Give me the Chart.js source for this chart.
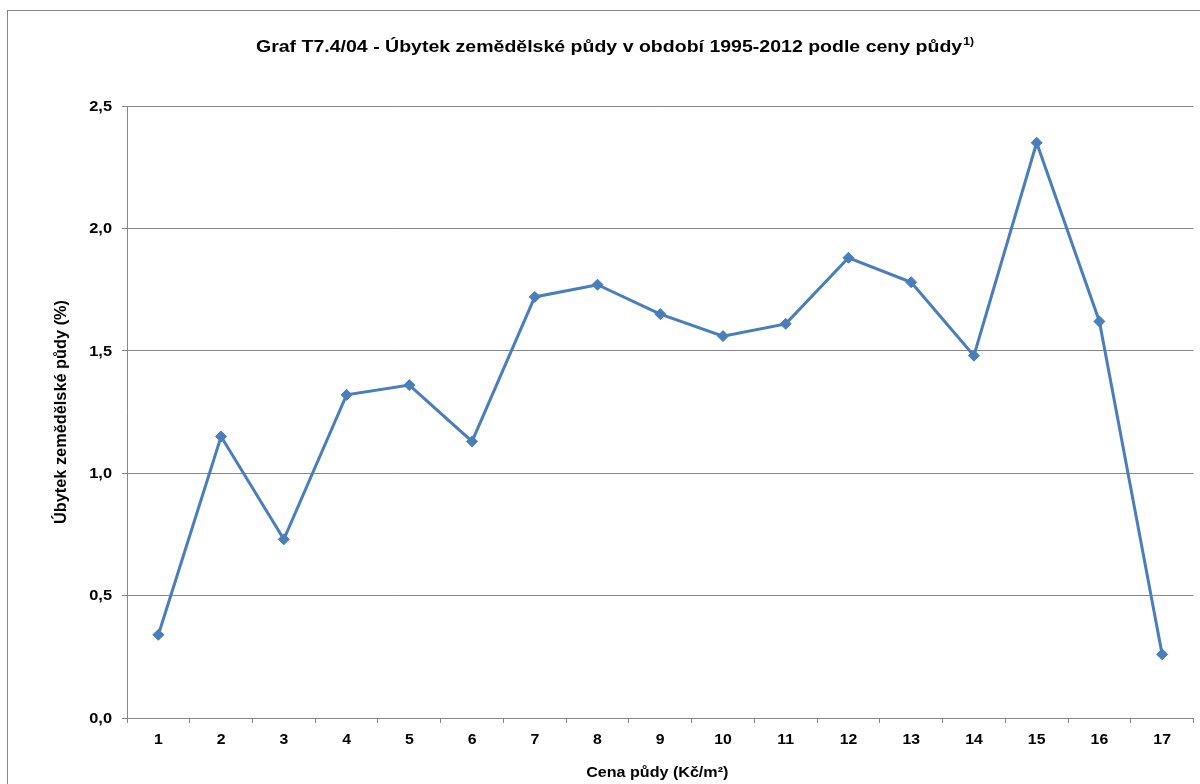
<!DOCTYPE html>
<html>
<head>
<meta charset="utf-8">
<script src="https://cdn.jsdelivr.net/npm/chart.js@4/dist/chart.umd.min.js"></script>
<style>
  html, body { margin: 0; padding: 0; background: #fff; }
  #wrap { width: 1200px; height: 784px; position: relative; }
</style>
</head>
<body>
<div id="wrap"><canvas id="c" width="1200" height="784"></canvas></div>
<script>
const categories = ['1','2','3','4','5','6','7','8','9','10','11','12','13','14','15','16','17'];
const values = [0.34, 1.15, 0.73, 1.32, 1.36, 1.13, 1.72, 1.77, 1.65, 1.56, 1.61, 1.88, 1.78, 1.48, 2.35, 1.62, 0.26];
const yTicks = [0, 0.5, 1.0, 1.5, 2.0, 2.5];
const titleMain = 'Graf T7.4/04 - Úbytek zemědělské půdy v období 1995-2012 podle ceny půdy';
const titleSup = '1)';
const yTitle = 'Úbytek zemědělské půdy (%)';
const xTitle = 'Cena půdy (Kč/m²)';

const FONT = '"Liberation Sans", Arial, sans-serif';
const GRID = '#878787';
const BLUE = '#4a7ebb';

// draw text horizontally stretched by sx (along its baseline)
function stretchedText(ctx, text, x, y, font, sx, align, baseline, rot) {
  ctx.save();
  ctx.font = font;
  ctx.fillStyle = '#000';
  ctx.textAlign = align;
  ctx.textBaseline = baseline;
  ctx.translate(x, y);
  if (rot) ctx.rotate(rot);
  ctx.scale(sx, 1);
  ctx.fillText(text, 0, 0);
  ctx.restore();
}

const decorPlugin = {
  id: 'decor',
  beforeDraw(chart) {
    const ctx = chart.ctx;
    ctx.save();
    ctx.fillStyle = '#fff';
    ctx.fillRect(0, 0, chart.width, chart.height);
    ctx.strokeStyle = GRID;
    ctx.lineWidth = 1;
    ctx.strokeRect(7.5, 10.5, 1400, 1000);
    ctx.restore();
  },
  afterDraw(chart) {
    const ctx = chart.ctx;
    const xs = chart.scales.x, ys = chart.scales.y;

    // Title with superscript
    ctx.save();
    const sxT = 1.22;
    const fMain = 'bold 16px ' + FONT, fSup = 'bold 10px ' + FONT;
    ctx.font = fMain;
    const w1 = ctx.measureText(titleMain).width * sxT;
    ctx.font = fSup;
    const w2 = ctx.measureText(titleSup).width * sxT;
    ctx.restore();
    const x0 = 615 - (w1 + w2 + 1) / 2;
    stretchedText(ctx, titleMain, x0, 52, fMain, sxT, 'left', 'alphabetic');
    stretchedText(ctx, titleSup, x0 + w1 + 1, 45, fSup, sxT, 'left', 'alphabetic');

    // Y tick labels
    const fTick = 'bold 14px ' + FONT;
    ys.ticks.forEach((t, i) => {
      const y = ys.getPixelForTick(i);
      const txt = Number(t.value).toFixed(1).replace('.', ',');
      stretchedText(ctx, txt, ys.right - 15, y + 1, fTick, 1.17, 'right', 'middle');
    });
    // X tick labels
    xs.ticks.forEach((t, i) => {
      const x = xs.getPixelForTick(i);
      stretchedText(ctx, categories[i], x, 744, fTick, 1.13, 'center', 'alphabetic');
    });

    // Axis titles
    stretchedText(ctx, xTitle, (xs.left + xs.right) / 2 - 3, 777, 'bold 14px ' + FONT, 1.15, 'center', 'alphabetic');
    stretchedText(ctx, yTitle, 66, (ys.top + ys.bottom) / 2, 'bold 16px ' + FONT, 1.02, 'center', 'alphabetic', -Math.PI / 2);
  }
};

new Chart(document.getElementById('c'), {
  type: 'line',
  data: {
    labels: categories,
    datasets: [{
      data: values,
      borderColor: BLUE,
      backgroundColor: BLUE,
      borderWidth: 3,
      pointStyle: 'rectRot',
      pointRadius: 5.5,
      pointHoverRadius: 5.5,
      pointBorderWidth: 1,
      pointBackgroundColor: BLUE,
      pointBorderColor: BLUE,
      tension: 0,
      fill: false
    }]
  },
  plugins: [decorPlugin],
  options: {
    responsive: false,
    animation: false,
    devicePixelRatio: 1,
    events: [],
    layout: { padding: { top: 106, right: 5, left: 0, bottom: 0 } },
    plugins: {
      legend: { display: false },
      title: { display: false },
      tooltip: { enabled: false }
    },
    scales: {
      x: {
        type: 'category',
        offset: true,
        afterFit(scale) { scale.height = 66; },
        grid: {
          offset: true,
          drawOnChartArea: false,
          drawTicks: true,
          tickLength: 5,
          color: GRID,
          lineWidth: 1
        },
        border: { display: true, color: GRID, width: 1 },
        ticks: { display: false, autoSkip: false, maxRotation: 0 },
        title: { display: false }
      },
      y: {
        min: 0,
        max: 2.5,
        afterFit(scale) { scale.width = 127; },
        afterBuildTicks(scale) { scale.ticks = yTicks.map(v => ({ value: v })); },
        grid: {
          drawOnChartArea: true,
          drawTicks: true,
          tickLength: 5,
          color: GRID,
          lineWidth: 1
        },
        border: { display: true, color: GRID, width: 1 },
        ticks: { display: false },
        title: { display: false }
      }
    }
  }
});
</script>
</body>
</html>
